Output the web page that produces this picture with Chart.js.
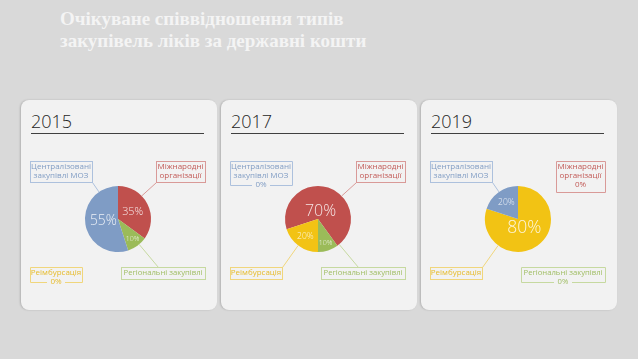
<!DOCTYPE html>
<html>
<head>
<meta charset="utf-8">
<script src="https://cdn.jsdelivr.net/npm/chart.js@4"></script>
<style>
  body { margin: 0; background: #d9d9d9; width: 638px; height: 359px; overflow: hidden; position: relative; }
  .title { position: absolute; left: 60px; top: 8px; color: #f4f4f4; font: bold 19px "Liberation Serif", serif; line-height: 22px; }
  .panel { position: absolute; top: 100px; width: 196px; height: 210px; background: #f2f2f2; border-radius: 8px; box-shadow: -1px 0 2px rgba(0,0,0,0.18); }
  .year { position: absolute; left: 10px; top: 10px; width: 173px; font: 300 18px "Open Sans", sans-serif; color: #262626; line-height: 23px; border-bottom: 1.5px solid #404040; }
  .panel canvas { position: absolute; left: 0; top: 0; }
</style>
</head>
<body>
<div class="title">Очікуване співвідношення типів<br>закупівель ліків за державні кошти</div>
<div class="panel" style="left:21px"><div class="year">2015</div><canvas id="c2015" width="196" height="210"></canvas></div>
<div class="panel" style="left:221px"><div class="year">2017</div><canvas id="c2017" width="196" height="210"></canvas></div>
<div class="panel" style="left:421px"><div class="year">2019</div><canvas id="c2019" width="196" height="210"></canvas></div>
<script>
// categories in clockwise drawing order
const categories = ['Міжнародні організації', 'Регіональні закупівлі', 'Реімбурсація', 'Централізовані закупівлі МОЗ'];
const years = ['2015', '2017', '2019'];
const values2015 = [35, 10, 0, 55];
const values2017 = [70, 10, 20, 0];
const values2019 = [0, 0, 80, 20];
const rotations = [0, 252, 0];

// label lines as they are broken in the callout boxes
const labelLines = [['Міжнародні', 'організації'], ['Регіональні закупівлі'], ['Реімбурсація'], ['Централізовані', 'закупівлі МОЗ']];

const sliceColors = ['#c0504d', '#9bbb59', '#f2c314', '#7f9cc5'];
const textColors = ['#c25a57', '#9fbd62', '#e6bb2a', '#819dc4'];
const lineColors = ['#d99a98', '#c6d9a0', '#f0d67c', '#adc1dd'];

// callout box layout (panel coords) and where the leader line attaches
const boxes = [
  { x: 135, y: 61, w: 49, anchor: 'bl' },
  { x: 100, y: 167, w: 84, anchor: 'top' },
  { x: 9, y: 167, w: 52, anchor: 'tr' },
  { x: 9, y: 61, w: 62, anchor: 'br' }
];

const pctRadius = [0.5, 0.75, 0.65, 0.6];

const calloutPlugin = {
  id: 'callouts',
  afterDatasetsDraw(chart) {
    const ctx = chart.ctx;
    const meta = chart.getDatasetMeta(0);
    const vals = chart.data.datasets[0].data;
    const year = chart.options.plugins.callouts.year;
    ctx.save();
    meta.data.forEach((arc, i) => {
      const p = arc.getProps(['x', 'y', 'startAngle', 'endAngle', 'outerRadius'], true);
      const v = vals[i];
      const b = boxes[i];
      const lines = labelLines[i];
      const lh = 9;
      const nameH = lines.length * lh + 3;
      ctx.font = (i === 1 ? '7.7px' : '8px') + ' "Open Sans", sans-serif';
      ctx.textAlign = 'center';
      ctx.textBaseline = 'middle';

      // box + text
      const cx = b.x + b.w / 2;
      ctx.fillStyle = textColors[i];
      lines.forEach((t, k) => ctx.fillText(t, cx, b.y + 6 + k * lh));
      ctx.strokeStyle = lineColors[i];
      ctx.lineWidth = 1;
      if (v === 0) {
        const inside = (year === '2019' && i === 0);
        const zy = b.y + nameH + 3;
        ctx.fillText('0%', cx, zy);
        const h = inside ? nameH + 10 : nameH + 3;
        ctx.beginPath();
        ctx.moveTo(b.x + 0.5, b.y + h + 0.5);
        ctx.lineTo(b.x + 0.5, b.y + 0.5);
        ctx.lineTo(b.x + b.w + 0.5, b.y + 0.5);
        ctx.lineTo(b.x + b.w + 0.5, b.y + h + 0.5);
        if (inside) {
          ctx.lineTo(b.x + 0.5, b.y + h + 0.5);
        } else {
          ctx.moveTo(b.x + 0.5, b.y + h + 0.5);
          ctx.lineTo(cx - 9, b.y + h + 0.5);
          ctx.moveTo(cx + 9, b.y + h + 0.5);
          ctx.lineTo(b.x + b.w + 0.5, b.y + h + 0.5);
        }
        ctx.stroke();
        return;
      }
      ctx.strokeRect(b.x + 0.5, b.y + 0.5, b.w, nameH);

      // leader line from box to pie edge, aimed at centre
      let ax, ay;
      if (b.anchor === 'bl') { ax = b.x; ay = b.y + nameH; }
      else if (b.anchor === 'br') { ax = b.x + b.w; ay = b.y + nameH; }
      else if (b.anchor === 'tr') { ax = b.x + b.w; ay = b.y; }
      else { ax = b.x + 37; ay = b.y; }
      const dx = p.x - ax, dy = p.y - ay;
      const len = Math.hypot(dx, dy);
      const ex = p.x - dx / len * p.outerRadius, ey = p.y - dy / len * p.outerRadius;
      ctx.beginPath();
      ctx.moveTo(ax + 0.5, ay + 0.5);
      ctx.lineTo(ex, ey);
      ctx.stroke();

      // percentage inside the slice
      const mid = (p.startAngle + p.endAngle) / 2;
      const r = p.outerRadius * pctRadius[i] * (v >= 70 ? 0.5 : v >= 50 ? 0.75 : 1);
      const size = 5.5 + v * 0.15;
      ctx.font = '300 ' + size + 'px "Open Sans", sans-serif';
      ctx.fillStyle = 'rgba(255,255,255,0.85)';
      ctx.fillText(v + '%', p.x + Math.cos(mid) * r, p.y + Math.sin(mid) * r);
    });
    ctx.restore();
  }
};

const seriesByYear = [values2015, values2017, values2019];

years.forEach((year, n) => {
  new Chart(document.getElementById('c' + year), {
    type: 'pie',
    data: {
      labels: categories,
      datasets: [{
        data: seriesByYear[n],
        backgroundColor: sliceColors,
        borderWidth: 0
      }]
    },
    options: {
      responsive: false,
      animation: false,
      rotation: rotations[n],
      layout: { padding: { left: 64, right: 66, top: 86, bottom: 58 } },
      plugins: {
        legend: { display: false },
        tooltip: { enabled: false },
        callouts: { year: year }
      }
    },
    plugins: [calloutPlugin]
  });
});
</script>
</body>
</html>
